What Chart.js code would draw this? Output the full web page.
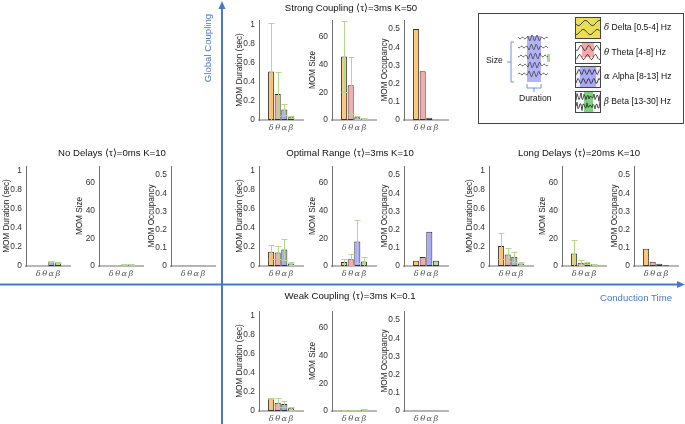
<!DOCTYPE html>
<html>
<head>
<meta charset="UTF-8">
<title>MOM metrics by coupling and delay</title>
<script src="https://cdn.jsdelivr.net/npm/chart.js"></script>
<style>
  body { margin:0; width:685px; height:424px; position:relative; overflow:hidden; background:#fff;
         font-family:"Liberation Sans", Arial, Helvetica, sans-serif; }
  canvas.c { position:absolute; }
  .ttl { position:absolute; font-size:9.6px; color:#111; white-space:nowrap; transform:translate(-50%,-50%); }
  .ax { position:absolute; font-size:9.6px; color:#4a78c8; white-space:nowrap; transform:translate(-50%,-50%); }
  .lg { position:absolute; font-size:8.6px; color:#111; white-space:nowrap; transform:translateY(-50%); }
  .gr { font-family:"DejaVu Serif", serif; font-style:italic; }
  #box { position:absolute; left:478px; top:13px; width:204px; height:109px; border:1px solid #444; }
  svg { position:absolute; left:0; top:0; }
</style>
</head>
<body>

<div id="box"></div>

<script>
    // frequency bands (x categories)
    const bands = ['δ', 'θ', 'α', 'β'];
    const bandColors = ['#fdc775', '#f6aaaa', '#aaaaf4', '#a8e8a0'];

    // y axis limits and tick values
    const durMax = 1.05;
    const durTickVals = [0, 0.2, 0.4, 0.6, 0.8, 1];
    const sizeMax = 72;
    const sizeTickVals = [0, 20, 40, 60];
    const occMax = 0.55;
    const occTickVals = [0, 0.1, 0.2, 0.3, 0.4, 0.5];

    // Strong Coupling <tau>=3ms K=50
    const durStrong = [0.51, 0.274, 0.11, 0.028];
    const durStrongSd = [0.51, 0.235, 0.062, 0.012];
    const sizeStrong = [45.7, 25, 1.9, 1.0];
    const sizeStrongSd = [25.7, 20.5, 1.0, 0.4];
    const occStrong = [0.50, 0.268, 0.013, 0.002];

    // No Delays <tau>=0ms K=10
    const durNoDelay = [0, 0, 0.05, 0.036];
    const durNoDelaySd = [0, 0, 0.004, 0.008];
    const sizeNoDelay = [0, 0, 1.0, 1.0];
    const sizeNoDelaySd = [0, 0, 0.3, 0.3];
    const occNoDelay = [0.001, 0.001, 0.001, 0.001];

    // Optimal Range <tau>=3ms K=10
    const durOptimal = [0.15, 0.142, 0.174, 0.025];
    const durOptimalSd = [0.075, 0.07, 0.114, 0.015];
    const sizeOptimal = [2.8, 4.9, 17.6, 3.3];
    const sizeOptimalSd = [2.6, 4.0, 15.6, 3.5];
    const occOptimal = [0.029, 0.05, 0.189, 0.029];

    // Long Delays <tau>=20ms K=10
    const durLong = [0.21, 0.12, 0.097, 0.025];
    const durLongSd = [0.135, 0.066, 0.05, 0.015];
    const sizeLong = [9.0, 2.4, 1.9, 1.2];
    const sizeLongSd = [9.5, 1.9, 0.8, 0.5];
    const occLong = [0.095, 0.023, 0.013, 0.004];

    // Weak Coupling <tau>=3ms K=0.1
    const durWeak = [0.132, 0.087, 0.073, 0.028];
    const durWeakSd = [0.005, 0.045, 0.032, 0.016];
    const sizeWeak = [0.8, 0.8, 0.8, 0.9];
    const sizeWeakSd = [0.2, 0.2, 0.2, 0.3];
    const occWeak = [0.0008, 0.0008, 0.0008, 0.002];

    const fontSans = '"Liberation Sans", Arial, sans-serif';

    // error bars (mean +- sd), drawn from the chart scales
    const errorBars = {
        id: 'errorBars',
        afterDatasetsDraw(chart, args, opts) {
            const sd = opts.sd;
            if (!sd) return;
            const ctx = chart.ctx;
            const x = chart.scales.x, y = chart.scales.y;
            const area = chart.chartArea;
            const pts = chart.data.datasets[0].data;
            ctx.save();
            ctx.beginPath();
            ctx.rect(area.left, area.top - 2, area.right - area.left, area.bottom - area.top + 2);
            ctx.clip();
            ctx.strokeStyle = '#b4d78a';
            ctx.lineWidth = 1;
            pts.forEach(function (p, i) {
                if (!sd[i]) return;
                const px = Math.round(x.getPixelForValue(p.x)) + 0.5;
                const hi = Math.round(y.getPixelForValue(p.y + sd[i])) + 0.5;
                const lo = Math.round(y.getPixelForValue(Math.max(0, p.y - sd[i]))) + 0.5;
                ctx.beginPath();
                ctx.moveTo(px, lo); ctx.lineTo(px, hi);
                ctx.moveTo(px - 3, hi); ctx.lineTo(px + 3, hi);
                ctx.moveTo(px - 3, lo); ctx.lineTo(px + 3, lo);
                ctx.stroke();
            });
            ctx.restore();
        }
    };

    function barChart(axisX, zeroY, vals, sd, yMax, tickVals, label) {
        const cv = document.createElement('canvas');
        cv.className = 'c';
        cv.width = 80;
        cv.height = 126;
        document.body.appendChild(cv);

        const chart = new Chart(cv.getContext('2d'), {
            type: 'bar',
            data: {
                datasets: [{
                    data: vals.map(function (v, i) { return { x: i + 1, y: v }; }),
                    backgroundColor: bandColors,
                    borderColor: '#333',
                    borderWidth: 1,
                    borderSkipped: false,
                    barPercentage: 0.92,
                    categoryPercentage: 1
                }]
            },
            options: {
                responsive: false,
                animation: false,
                devicePixelRatio: 1,
                layout: { padding: { top: 10, right: 4, left: 0, bottom: 0 } },
                plugins: {
                    legend: { display: false },
                    tooltip: { enabled: false },
                    errorBars: { sd: sd }
                },
                scales: {
                    x: {
                        type: 'linear',
                        bounds: 'data',
                        min: 0,
                        max: 5,
                        grid: { display: false, drawTicks: false },
                        border: { color: '#b8b8b8', width: 2 },
                        afterBuildTicks: function (s) {
                            s.ticks = bands.map(function (b, i) { return { value: i + 1 }; });
                        },
                        ticks: {
                            autoSkip: false,
                            maxRotation: 0,
                            padding: 3,
                            color: '#555',
                            font: { family: '"DejaVu Serif", serif', style: 'italic', size: 8.2 },
                            callback: function (v) { return bands[v - 1]; }
                        },
                        afterFit: function (s) { s.height = 16; }
                    },
                    y: {
                        min: 0,
                        max: yMax,
                        bounds: 'data',
                        grid: { display: false, drawTicks: false },
                        border: { color: '#707070', width: 1 },
                        afterBuildTicks: function (s) {
                            s.ticks = tickVals.map(function (v) { return { value: v }; });
                        },
                        ticks: {
                            padding: 4,
                            color: '#333',
                            font: { family: fontSans, size: 8.4 },
                            callback: function (v) { return String(v); }
                        },
                        title: {
                            display: true,
                            text: label,
                            color: '#222',
                            padding: { top: 7.4, bottom: 0 },
                            font: { family: fontSans, size: 8.2 }
                        },
                        afterFit: function (s) { s.width = 32; }
                    }
                }
            },
            plugins: [errorBars]
        });

        const a = chart.chartArea;
        cv.style.left = (axisX - a.left) + 'px';
        cv.style.top = (zeroY - a.bottom) + 'px';
        return chart;
    }

    function group(axisX, zeroY, dur, durSd, size, sizeSd, occ) {
        barChart(axisX, zeroY, dur, durSd, durMax, durTickVals, 'MOM Duration (sec)');
        barChart(axisX + 73, zeroY, size, sizeSd, sizeMax, sizeTickVals, 'MOM Size');
        barChart(axisX + 145, zeroY, occ, null, occMax, occTickVals, 'MOM Occupancy');
    }

    group(259, 120, durStrong, durStrongSd, sizeStrong, sizeStrongSd, occStrong);
    group(26, 266, durNoDelay, durNoDelaySd, sizeNoDelay, sizeNoDelaySd, occNoDelay);
    group(259, 266, durOptimal, durOptimalSd, sizeOptimal, sizeOptimalSd, occOptimal);
    group(489, 266, durLong, durLongSd, sizeLong, sizeLongSd, occLong);
    group(259, 411, durWeak, durWeakSd, sizeWeak, sizeWeakSd, occWeak);

    // legend icons (decorative traces)
    function icon(left, top, bg, patch, freq, noisy) {
        const cv = document.createElement('canvas');
        cv.className = 'c';
        cv.width = 26; cv.height = 22;
        cv.style.left = left + 'px'; cv.style.top = top + 'px';
        document.body.appendChild(cv);
        const ctx = cv.getContext('2d');
        ctx.fillStyle = bg; ctx.fillRect(0, 0, 26, 22);
        if (patch) { ctx.fillStyle = patch[0]; ctx.fillRect(patch[1], patch[2], patch[3], patch[4]); }
        ctx.strokeStyle = '#222'; ctx.lineWidth = 0.8;
        [6, 15].forEach(function (y0, k) {
            ctx.beginPath();
            for (let x = 1; x <= 25; x++) {
                let y = y0 + 2.6 * Math.sin(x * freq + k);
                if (noisy) y += 2 * Math.sin(x * 2.3 + k) * Math.sin(x * 0.7);
                x > 1 ? ctx.lineTo(x, y) : ctx.moveTo(x, y);
            }
            ctx.stroke();
        });
        ctx.strokeStyle = '#444'; ctx.lineWidth = 1;
        ctx.strokeRect(0.5, 0.5, 25, 21);
    }
    icon(575, 17, '#e9dd5a', null, 0.45, false);
    icon(575, 42, '#ffffff', ['#f5a8a8', 7, 1, 12, 14], 0.8, false);
    icon(575, 66, '#ecebfa', ['#a9a9f4', 5, 1, 16, 20], 1.2, false);
    icon(575, 91, '#ffffff', ['#7fd07f', 9, 1, 9, 20], 1.9, true);

    // illustration: traces with highlighted event
    (function () {
        const cv = document.createElement('canvas');
        cv.className = 'c';
        cv.width = 40; cv.height = 52;
        cv.style.left = '514px'; cv.style.top = '32px';
        document.body.appendChild(cv);
        const ctx = cv.getContext('2d');
        ctx.fillStyle = '#b3b3f5'; ctx.fillRect(13, 4, 14, 46);
        ctx.fillStyle = '#9fe09f'; ctx.fillRect(33, 22, 3, 8);
        ctx.strokeStyle = '#333'; ctx.lineWidth = 0.7;
        [6, 15, 24, 33, 42].forEach(function (y0, k) {
            ctx.beginPath();
            for (let x = 4; x <= 34; x++) {
                const a = (x > 13 && x < 27) ? 3 : 1;
                const y = y0 + a * Math.sin(x * 1.3 + k);
                x > 4 ? ctx.lineTo(x, y) : ctx.moveTo(x, y);
            }
            ctx.stroke();
        });
    })();
</script>

<svg width="685" height="424">
  <line x1="222" y1="7" x2="222" y2="424" stroke="#4a78c8" stroke-width="2"/>
  <polygon points="222,1 218.5,9 225.5,9" fill="#4a78c8"/>
  <line x1="0" y1="284.5" x2="678" y2="284.5" stroke="#4a78c8" stroke-width="2"/>
  <polygon points="685,284.5 677,281 677,288" fill="#4a78c8"/>
  <path d="M514,42 H511 V82 H514 M511,62 H507" fill="none" stroke="#6d94d8" stroke-width="1"/>
  <path d="M527,84 V88 H541 V84 M534,88 V92" fill="none" stroke="#6d94d8" stroke-width="1"/>
</svg>

<div class="ax" style="left:207px;top:48px;transform:translate(-50%,-50%) rotate(-90deg)">Global Coupling</div>
<div class="ax" style="left:636px;top:297px">Conduction Time</div>

<div class="ttl" style="left:351px;top:7px">Strong Coupling ⟨τ⟩=3ms K=50</div>
<div class="ttl" style="left:112px;top:152px">No Delays ⟨τ⟩=0ms K=10</div>
<div class="ttl" style="left:350px;top:152px">Optimal Range ⟨τ⟩=3ms K=10</div>
<div class="ttl" style="left:579px;top:152px">Long Delays ⟨τ⟩=20ms K=10</div>
<div class="ttl" style="left:350px;top:295px">Weak Coupling ⟨τ⟩=3ms K=0.1</div>

<div class="lg" style="left:486px;top:60px">Size</div>
<div class="lg" style="left:519px;top:98px">Duration</div>
<div class="lg" style="left:604px;top:27px"><span class="gr">δ</span> Delta [0.5-4] Hz</div>
<div class="lg" style="left:604px;top:52px"><span class="gr">θ</span> Theta [4-8] Hz</div>
<div class="lg" style="left:604px;top:76px"><span class="gr">α</span> Alpha [8-13] Hz</div>
<div class="lg" style="left:604px;top:101px"><span class="gr">β</span> Beta [13-30] Hz</div>

</body>
</html>
